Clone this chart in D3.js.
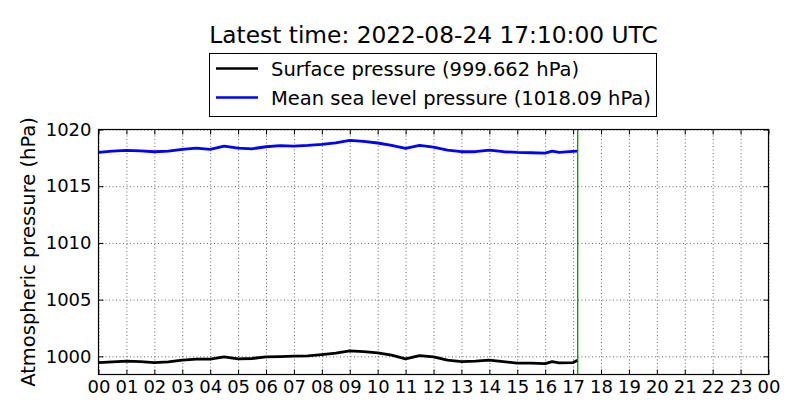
<!DOCTYPE html>
<html>
<head>
<meta charset="utf-8">
<script src="https://cdn.jsdelivr.net/npm/d3@7"></script>
<style>
  body { margin: 0; background: #fff; }
  svg { font-family: "DejaVu Sans", sans-serif; }
</style>
</head>
<body>
<script>
// readings every half hour (UTC)
var times = ['00:00','00:30','01:00','01:30','02:00','02:30','03:00','03:30','04:00','04:30',
  '05:00','05:30','06:00','06:30','07:00','07:30','08:00','08:30','09:00','09:30',
  '10:00','10:30','11:00','11:30','12:00','12:30','13:00','13:30','14:00','14:30',
  '15:00','15:30','16:00','16:15','16:30','17:00','17:10'];

var surface = [999.45, 999.51, 999.58, 999.54, 999.45, 999.51, 999.66, 999.75, 999.75, 999.96,
  999.78, 999.81, 999.96, 999.98, 1000.02, 1000.04, 1000.16, 1000.28, 1000.49, 1000.42,
  1000.31, 1000.11, 999.78, 1000.07, 999.96, 999.66, 999.54, 999.58, 999.66, 999.54,
  999.40, 999.40, 999.36, 999.54, 999.42, 999.45, 999.662];

var msl = [1017.98, 1018.10, 1018.16, 1018.12, 1018.04, 1018.10, 1018.25, 1018.36, 1018.25, 1018.54,
  1018.36, 1018.30, 1018.48, 1018.57, 1018.54, 1018.60, 1018.69, 1018.83, 1019.04, 1018.96,
  1018.81, 1018.60, 1018.34, 1018.60, 1018.45, 1018.19, 1018.04, 1018.04, 1018.19, 1018.04,
  1017.98, 1017.95, 1017.92, 1018.10, 1017.98, 1018.07, 1018.09];

var seriesNames = ['Surface pressure (999.662 hPa)', 'Mean sea level pressure (1018.09 hPa)'];
var seriesColors = ['black', 'blue'];

var yTicks = [1000, 1005, 1010, 1015, 1020];
var xTickLabels = ['00','01','02','03','04','05','06','07','08','09','10','11','12',
  '13','14','15','16','17','18','19','20','21','22','23','00'];

var latest = '17:10';
var title = 'Latest time: 2022-08-24 17:10:00 UTC';

var width = 800, height = 420;
var margin = { top: 129.5, left: 98.5, right: 31.5, bottom: 45.5 };
var w = width - margin.left - margin.right;
var h = height - margin.top - margin.bottom;

var day = new Date(Date.UTC(2022, 7, 24));
function toDate(s) {
  var p = s.split(':');
  return new Date(day.getTime() + (+p[0] * 60 + +p[1]) * 60000);
}

var x = d3.scaleUtc()
  .domain([day, d3.utcDay.offset(day, 1)])
  .range([0, w]);

var y = d3.scaleLinear()
  .domain([998.4, 1020])
  .range([h, 0]);

var hours = d3.utcHour.range(day, d3.utcHour.offset(day, 25));

var svg = d3.select('body').append('svg')
  .attr('width', width)
  .attr('height', height);

var g = svg.append('g')
  .attr('transform', 'translate(' + margin.left + ',' + margin.top + ')');

// grid
g.append('g')
  .attr('transform', 'translate(0,' + h + ')')
  .call(d3.axisBottom(x).tickValues(hours).tickSize(-h).tickFormat(''))
  .call(function (a) { a.select('.domain').remove(); })
  .selectAll('line')
  .attr('stroke', 'black').attr('stroke-width', 0.6).attr('stroke-dasharray', '1,2.5');

g.append('g')
  .call(d3.axisLeft(y).tickValues(yTicks).tickSize(-w).tickFormat(''))
  .call(function (a) { a.select('.domain').remove(); })
  .selectAll('line')
  .attr('stroke', 'black').attr('stroke-width', 0.6).attr('stroke-dasharray', '1,2.5');

// lines
var line = d3.line()
  .x(function (d) { return x(d.t); })
  .y(function (d) { return y(d.v); });

[surface, msl].forEach(function (vals, k) {
  var data = vals.map(function (v, i) { return { t: toDate(times[i]), v: v }; });
  g.append('path')
    .datum(data)
    .attr('fill', 'none')
    .attr('stroke', seriesColors[k])
    .attr('stroke-width', 2.8)
    .attr('stroke-linejoin', 'round')
    .attr('d', line);
});

// latest time marker
g.append('line')
  .attr('x1', x(toDate(latest))).attr('x2', x(toDate(latest)))
  .attr('y1', 0).attr('y2', h)
  .attr('stroke', 'green').attr('stroke-width', 1.2);

// axes with inward ticks
g.append('g')
  .attr('transform', 'translate(0,' + h + ')')
  .call(d3.axisBottom(x).tickValues(hours).tickSize(-5).tickPadding(6)
    .tickFormat(function (d, i) { return xTickLabels[i]; }));

g.append('g')
  .call(d3.axisLeft(y).tickValues(yTicks).tickSize(-5).tickPadding(7)
    .tickFormat(d3.format('d')));

g.append('g')
  .call(d3.axisTop(x).tickValues(hours).tickSize(-5).tickFormat(''));

g.append('g')
  .attr('transform', 'translate(' + w + ',0)')
  .call(d3.axisRight(y).tickValues(yTicks).tickSize(-5).tickFormat(''));

g.selectAll('.domain').remove();
g.selectAll('.tick text')
  .attr('font-size', 18)
  .attr('font-family', 'DejaVu Sans')
  .attr('fill', 'black');

// frame
g.append('rect')
  .attr('width', w).attr('height', h)
  .attr('fill', 'none').attr('stroke', 'black').attr('stroke-width', 1.2);

// y label
svg.append('text')
  .attr('transform', 'translate(35,' + (margin.top + h / 2) + ') rotate(-90)')
  .attr('text-anchor', 'middle')
  .attr('font-size', 19.5)
  .text('Atmospheric pressure (hPa)');

// title
svg.append('text')
  .attr('x', margin.left + w / 2)
  .attr('y', 43)
  .attr('text-anchor', 'middle')
  .attr('font-size', 23.3)
  .text(title);

// legend
var legend = svg.append('g');
legend.append('rect')
  .attr('x', 209.5).attr('y', 53.5)
  .attr('width', 447).attr('height', 63)
  .attr('fill', 'white').attr('stroke', 'black').attr('stroke-width', 1);

var items = legend.selectAll('.item')
  .data(seriesNames)
  .enter().append('g')
  .attr('transform', function (d, i) { return 'translate(0,' + (68.5 + i * 29) + ')'; });

items.append('line')
  .attr('x1', 216).attr('x2', 258)
  .attr('stroke', function (d, i) { return seriesColors[i]; })
  .attr('stroke-width', 2.6);

items.append('text')
  .attr('x', 271)
  .attr('y', 7.5)
  .attr('font-size', 19.5)
  .text(function (d) { return d; });
</script>
</body>
</html>
